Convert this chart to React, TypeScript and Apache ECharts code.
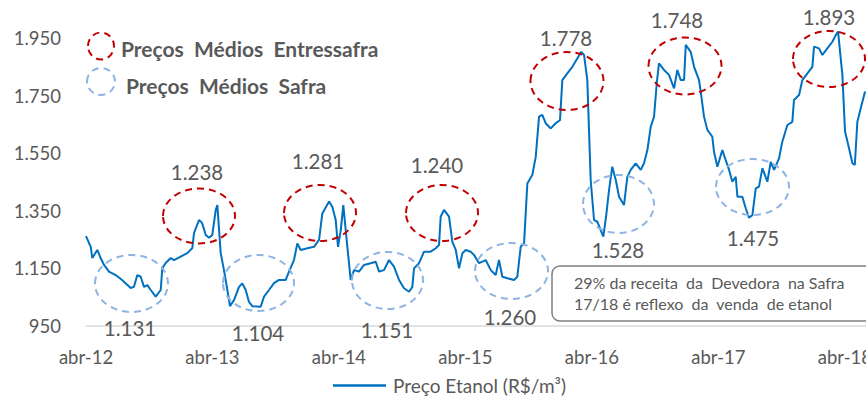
import React, { useEffect, useRef } from "react";
import * as echarts from "echarts";

// x = months since abr-12
const months = [
  0.0, 0.45, 0.6, 1.07, 1.39, 1.71, 2.18, 2.82, 3.42, 4.24, 4.55, 4.87, 5.19, 5.5, 5.82, 6.14, 6.61, 7.09, 7.24, 7.56,
  8.04, 8.35, 8.98, 9.61, 10.09, 10.25, 10.72, 11.01, 11.36, 11.67, 11.98, 12.31, 12.46, 12.78, 13.09, 13.41, 13.66,
  14.04, 14.52, 14.83, 15.15, 15.46, 15.78, 16.57, 16.89, 17.36, 17.84, 18.31, 18.95, 19.26, 19.73, 20.05, 20.37,
  21.0, 21.63, 22.11, 22.42, 23.06, 23.37, 23.69, 23.91, 24.17, 24.41, 24.73, 25.11, 25.43, 25.9, 26.38, 27.01,
  27.49, 27.8, 28.27, 28.75, 29.22, 29.7, 30.17, 30.65, 30.96, 31.12, 31.59, 32.07, 32.7, 33.18, 33.49, 33.65,
  33.97, 34.44, 34.75, 35.08, 35.39, 35.7, 36.02, 36.5, 36.81, 37.29, 37.92, 38.4, 38.87, 39.18, 39.5, 39.97,
  40.61, 40.92, 41.24, 41.56, 41.87, 42.34, 42.67, 42.98, 43.29, 43.61, 44.09, 44.56, 44.97, 45.19, 45.66, 46.14,
  46.61, 46.99, 47.25, 47.56, 47.72, 47.88, 48.2, 48.51, 48.83, 49.08, 49.34, 49.62, 49.93, 50.26, 50.57, 51.04,
  51.36, 51.68, 52.15, 52.63, 52.94, 53.26, 53.58, 53.89, 54.15, 54.36, 54.84, 55.31, 55.79, 56.1, 56.42, 56.74,
  56.9, 57.37, 57.69, 58.16, 58.32, 58.63, 58.95, 59.42, 59.58, 59.9, 60.37, 60.69, 61.01, 61.32, 61.64, 61.8,
  62.27, 62.59, 62.9, 63.22, 63.54, 63.85, 64.17, 64.64, 64.96, 65.28, 65.75, 66.06, 66.54, 67.01, 67.17, 67.65,
  67.96, 68.44, 68.91, 69.07, 69.54, 69.86, 70.33, 70.81, 71.13, 71.35, 71.54, 71.76, 72.01, 72.39, 72.71, 72.94,
  73.18, 73.5, 73.91,
];

// Preço Etanol (R$/m³)
const prices = [
  1262, 1225, 1186, 1214, 1186, 1162, 1139, 1127, 1110, 1082, 1086, 1127, 1121, 1086, 1092, 1075, 1052, 1075, 1151, 1169,
  1186, 1179, 1191, 1203, 1221, 1273, 1318, 1308, 1266, 1256, 1266, 1353, 1370, 1203, 1144, 1075, 1019,
  1040, 1086, 1098, 1075, 1034, 1019, 1017, 1052, 1075, 1099, 1110, 1110, 1139, 1179, 1237, 1214,
  1220, 1225, 1249, 1341, 1382, 1364, 1318, 1225, 1283, 1370, 1249, 1110, 1144, 1139, 1162, 1168,
  1173, 1139, 1144, 1179, 1156, 1110, 1081, 1069, 1086, 1150, 1168, 1208, 1208, 1220, 1231, 1330,
  1353, 1330, 1243, 1214, 1150, 1202, 1214, 1208, 1197, 1168, 1179, 1144, 1127, 1179, 1121, 1116,
  1110, 1121, 1225, 1237, 1445, 1474, 1538, 1677, 1683, 1654, 1636, 1654, 1665, 1804, 1827, 1850,
  1879, 1902, 1891, 1804, 1631, 1457, 1318, 1312, 1283, 1260, 1330, 1422, 1503, 1457, 1399, 1370,
  1468, 1492, 1515, 1492, 1515, 1561, 1642, 1677, 1793, 1862, 1839, 1822, 1775, 1839, 1804, 1804,
  1926, 1902, 1850, 1804, 1764, 1677, 1631, 1607, 1555, 1503, 1561, 1526, 1492, 1451, 1468, 1399,
  1399, 1359, 1326, 1335, 1428, 1434, 1498, 1451, 1520, 1492, 1532, 1590, 1648, 1659, 1735, 1752,
  1804, 1827, 1850, 1920, 1914, 1891, 1914, 1937, 1960, 1972, 1902, 1822, 1625, 1567, 1515, 1509,
  1659, 1706, 1764,
];

const seriesName = "Preço Etanol (R$/m³)";
const entressafraLabels = ["1.238", "1.281", "1.240", "1.778", "1.748", "1.893"];
const safraLabels = ["1.131", "1.104", "1.151", "1.260", "1.528", "1.475"];
const legendEntressafra = "Preços  Médios  Entressafra";
const legendSafra = "Preços  Médios  Safra";
const noteLines = ["29% da receita  da  Devedora  na Safra", "17/18 é reflexo  da  venda  de etanol"];

const FONT = "Lato, 'Open Sans', sans-serif";
const GREY = "#595959";
const RED = "#C00000";
const LBLUE = "#8EB4E3";

// annotation layout (pixels)
const redEllipses = [
  [199, 216, 36, 27.5], [320, 213, 36, 28], [442, 213, 36, 28],
  [567, 81, 36.5, 29], [685, 66, 36.5, 28.5], [829, 59, 36, 28],
];
const redLabelPos = [[197, 172], [318, 161], [437, 165], [566, 38], [677, 20], [829, 17]];
const blueEllipses = [
  [131.5, 283.5, 36.5, 28.5], [258.5, 283, 35.5, 28], [387.5, 280.5, 35.5, 28.5],
  [511.5, 271, 36.5, 28], [618.5, 204, 35.5, 29], [752.5, 187, 36.5, 28],
];
const blueLabelPos = [[130, 328], [258, 333], [387, 330], [510, 317], [618, 250], [753, 238]];

function fmtThousands(v: number) {
  const s = String(Math.round(v));
  return s.length > 3 ? s.slice(0, s.length - 3) + "." + s.slice(-3) : s;
}

export default function App() {
  const ref = useRef<HTMLDivElement>(null);
  useEffect(() => {
    if (!ref.current) return;
    const chart = echarts.init(ref.current, undefined, { renderer: "svg" });
    const data = months.map((m, i) => [m, prices[i]]);
    const ell = (e: number[], color: string) => ({
      type: "ellipse",
      shape: { cx: e[0], cy: e[1], rx: e[2], ry: e[3] },
      style: { fill: "none", stroke: color, lineWidth: 2, lineDash: [7, 5] },
      z: 10,
    });
    const txt = (t: string, p: number[], size = 20.5) => ({
      type: "text",
      x: p[0],
      y: p[1],
      style: { text: t, fill: GREY, font: `${size}px ${FONT}`, textAlign: "center", textVerticalAlign: "middle", verticalAlign: "middle" },
      z: 10,
    });
    const graphics: any[] = [];
    redEllipses.forEach((e) => graphics.push(ell(e, RED)));
    blueEllipses.forEach((e) => graphics.push(ell(e, LBLUE)));
    entressafraLabels.forEach((t, i) => graphics.push(txt(t, redLabelPos[i])));
    safraLabels.forEach((t, i) => graphics.push(txt(t, blueLabelPos[i])));
    graphics.push(ell([101, 46, 13, 13.5], RED));
    graphics.push(ell([101, 81.5, 14, 13.5], LBLUE));
    graphics.push({
      type: "text", x: 121, y: 48,
      style: { text: legendEntressafra, fill: GREY, font: `bold 21px ${FONT}`, textAlign: "left", textVerticalAlign: "middle", verticalAlign: "middle" },
      z: 10,
    });
    graphics.push({
      type: "text", x: 126, y: 85,
      style: { text: legendSafra, fill: GREY, font: `bold 21px ${FONT}`, textAlign: "left", textVerticalAlign: "middle", verticalAlign: "middle" },
      z: 10,
    });
    graphics.push({
      type: "rect",
      shape: { x: 552, y: 266, width: 340, height: 55, r: 8 },
      style: { fill: "#ffffff", stroke: "#7F7F7F", lineWidth: 1.5 },
      z: 9,
    });
    noteLines.forEach((t, i) =>
      graphics.push({
        type: "text", x: 574, y: 282 + i * 21,
        style: { text: t, fill: GREY, font: `16px ${FONT}`, textAlign: "left", textVerticalAlign: "middle", verticalAlign: "middle" },
        z: 10,
      })
    );

    chart.setOption({
      animation: false,
      backgroundColor: "#ffffff",
      grid: { left: 86, right: 0, top: 9.2, bottom: 72, containLabel: false, outerBoundsMode: "none" },
      xAxis: {
        type: "value",
        min: 0,
        max: 74,
        interval: 12,
        axisLine: { show: true, onZero: false, lineStyle: { color: "#D9D9D9", width: 1.5 } },
        axisTick: { show: false },
        splitLine: { show: false },
        axisLabel: {
          showMaxLabel: false,
          margin: 21,
          color: GREY,
          fontFamily: FONT,
          fontSize: 18.5,
          formatter: (v: number) => (v % 12 === 0 ? "abr-" + (12 + v / 12) : ""),
        },
      },
      yAxis: {
        type: "value",
        min: 950,
        max: 2050,
        interval: 200,
        axisLine: { show: false },
        axisTick: { show: false },
        splitLine: { show: false },
        axisLabel: {
          showMaxLabel: false,
          margin: 25,
          color: GREY,
          fontFamily: FONT,
          fontSize: 18.5,
          formatter: (v: number) => ((v - 950) % 200 === 0 ? fmtThousands(v) : ""),
        },
      },
      legend: {
        data: [{ name: seriesName, icon: "rect" }],
        left: 333,
        top: 376,
        itemWidth: 53,
        itemHeight: 2.5,
        padding: 0,
        itemStyle: { color: "#0070C0" },
        textStyle: { color: GREY, fontFamily: FONT, fontSize: 19, padding: [0, 0, 0, 2] },
      },
      series: [
        {
          name: seriesName,
          type: "line",
          data,
          symbol: "none",
          showSymbol: false,
          lineStyle: { color: "#0070C0", width: 2 },
          itemStyle: { color: "#0070C0" },
          clip: false,
        },
      ],
      graphic: graphics,
    });
    return () => chart.dispose();
  }, []);
  return <div ref={ref} style={{ position: "fixed", left: 0, top: 0, width: 866, height: 398 }} />;
}
